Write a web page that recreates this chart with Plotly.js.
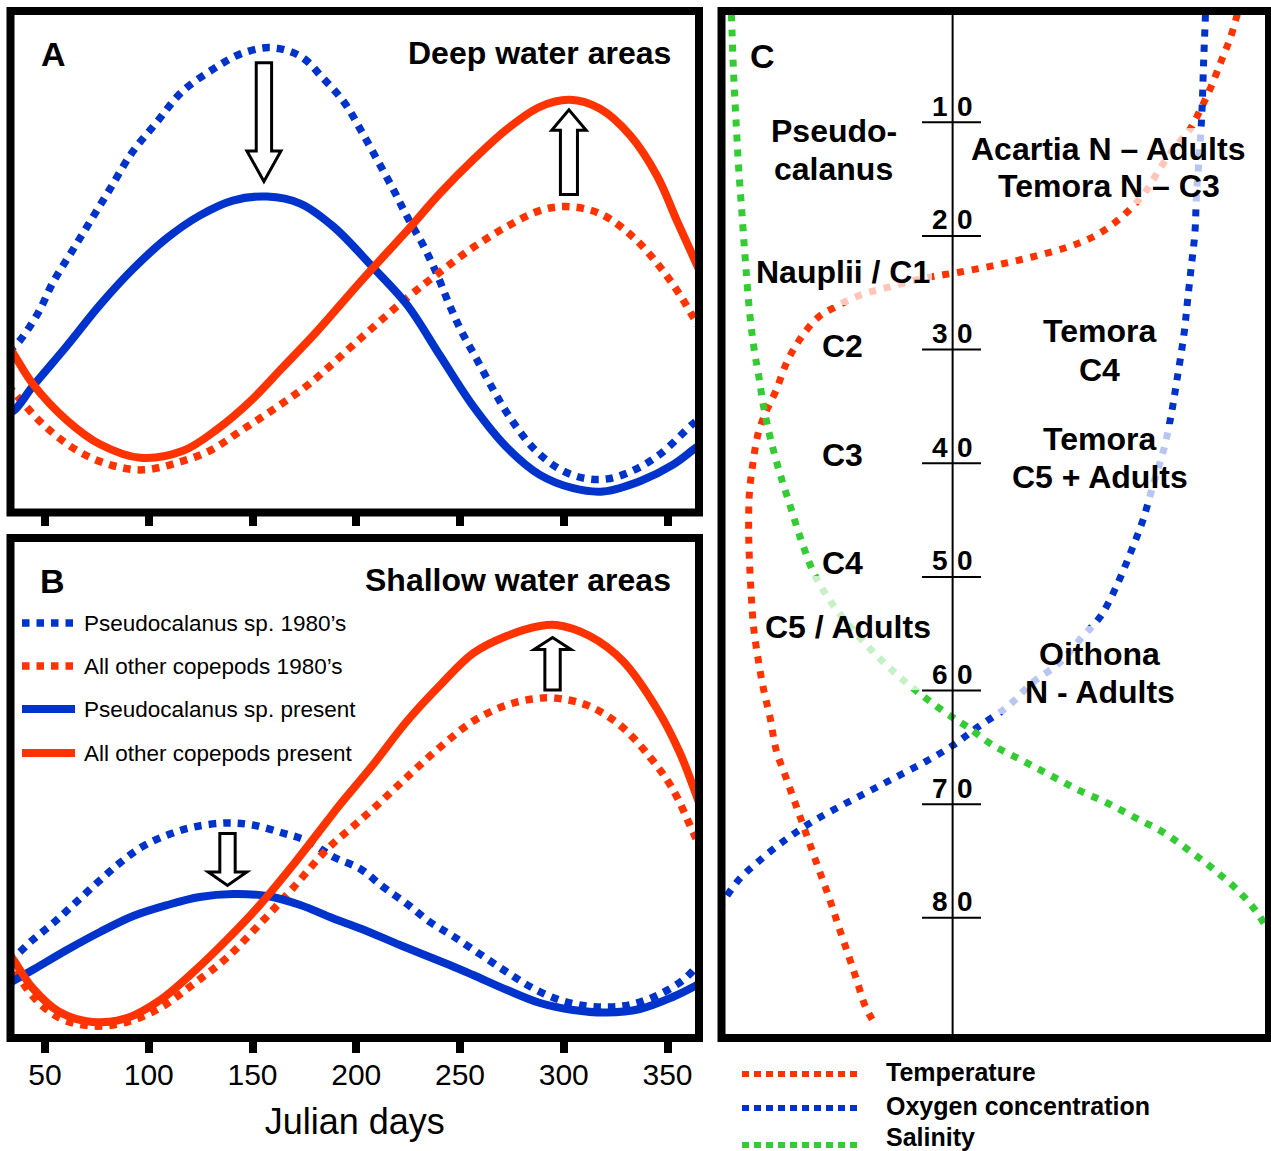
<!DOCTYPE html>
<html><head><meta charset="utf-8">
<script src="https://cdn.plot.ly/plotly-3.0.1.min.js"></script>
<style>html,body{margin:0;padding:0;background:#fff;} #chart{width:1271px;height:1151px;}</style>
</head><body><div id="chart"></div>
<script>
// ---------------- DATA ----------------
// Julian day tick labels
const dayTicks = [50, 100, 150, 200, 250, 300, 350];

// Panel A – Deep water areas (relative abundance, arbitrary units 0-100)
const A_pseudo80_day = [32, 35.5, 46, 54, 63, 72, 81, 92, 104, 116, 131, 144, 158.5, 173, 184, 194, 202, 210, 218, 224.5, 232, 239, 245, 251, 258, 266, 274, 285, 297, 309, 321, 333, 346, 362, 367];
const A_pseudo80_val = [32.4, 33.2, 39.3, 46.0, 52.1, 58.2, 64.3, 71.8, 77.9, 83.9, 88.4, 91.4, 92.7, 91.0, 86.6, 81.9, 76.4, 70.4, 64.3, 59.0, 53.5, 47.4, 41.3, 35.9, 30.6, 24.5, 19.0, 13.0, 8.9, 6.9, 6.7, 8.3, 11.5, 17.6, 19.3];
const A_other80_day = [32, 35.5, 49, 65.5, 81.5, 97, 113.5, 129.5, 145.5, 162, 177.5, 202, 224.5, 240.5, 256.5, 272.5, 288.5, 301.5, 317.5, 333.5, 346.5, 356, 362.5, 367];
const A_other80_val = [25.3, 23.7, 17.6, 12.35, 9.5, 8.5, 9.9, 12.35, 16.6, 21.1, 25.7, 34.7, 42.8, 48.0, 52.9, 57.0, 60.2, 61.0, 59.6, 54.9, 48.9, 43.4, 38.9, 35.8];
const A_pseudoNow_day = [32, 35.5, 44, 60.5, 76.5, 92.5, 109, 124.5, 140.5, 157, 173, 189, 208, 224.5, 240.5, 256.5, 272.5, 288.5, 304.5, 319, 337, 352.5, 362.5, 367];
const A_pseudoNow_val = [19.7, 20.5, 25.1, 33.2, 41.4, 48.6, 54.8, 59.2, 62.2, 63.0, 61.6, 57.0, 48.9, 41.4, 31.2, 21.1, 13.0, 7.5, 4.85, 4.2, 6.3, 9.5, 12.55, 13.9];
const A_otherNow_day = [32, 35.5, 44, 60.5, 76.5, 96, 116.5, 133, 149, 164.5, 181, 202, 224.5, 240.5, 256.5, 272.5, 288.5, 303, 317.5, 332, 345, 354.5, 362.5, 367];
const A_otherNow_val = [33.5, 31.2, 25.7, 18.4, 13.6, 10.9, 12.3, 16.6, 22.2, 28.9, 36.1, 46.0, 56.2, 63.7, 70.4, 76.4, 80.9, 82.3, 80.5, 75.2, 67.1, 58.2, 50.9, 46.8];

// Panel B – Shallow water areas
const B_pseudo80_day = [32, 35.5, 44, 54, 63.5, 75, 86, 97, 109, 121.5, 137.5, 150, 164.5, 176.5, 189, 202, 213, 224.5, 235.5, 246.5, 259.5, 272.5, 285, 298, 311, 322.5, 333.5, 346.5, 357.5, 363.5, 367];
const B_pseudo80_val = [15.7, 16.4, 19.6, 23.0, 26.6, 31.0, 35.0, 38.3, 40.6, 42.2, 43.0, 42.6, 41.0, 39.4, 36.2, 33.8, 30.2, 26.8, 23.2, 20.4, 16.8, 13.2, 10.0, 7.6, 6.4, 6.2, 6.8, 8.8, 11.6, 14.0, 15.5];
const B_other80_day = [32, 35.5, 44, 57, 73, 89.5, 105.5, 121.5, 137.5, 153.5, 169.5, 186, 197, 208, 224.5, 240.5, 256.5, 272.5, 285, 295, 311, 327, 341.5, 352.5, 362.5, 367];
const B_other80_val = [15.8, 13.6, 8.4, 4.0, 2.4, 3.2, 6.0, 10.8, 16.0, 22.8, 30.0, 37.8, 41.8, 45.8, 52.2, 58.2, 63.4, 66.6, 67.8, 68.0, 66.6, 62.6, 56.2, 49.8, 41.0, 37.0];
const B_pseudoNow_day = [32, 35.5, 44, 60.5, 76.5, 92.5, 109, 124.5, 140.5, 157, 173, 189, 202, 221, 245, 256.3, 272.7, 288.6, 304.5, 320.5, 336.7, 352.5, 363.3, 367];
const B_pseudoNow_val = [10.8, 11.6, 13.6, 17.6, 21.2, 24.4, 26.6, 28.2, 28.8, 28.4, 26.6, 23.9, 21.9, 18.6, 14.6, 12.6, 9.6, 7.0, 5.6, 5.1, 5.8, 8.2, 10.4, 11.3];
const B_otherNow_day = [32, 35.5, 44, 57, 73, 89.5, 105.5, 121.5, 137.5, 153.5, 169.5, 186, 192, 208, 224.5, 240.5, 256.5, 272.5, 288.5, 296.5, 312.5, 328.5, 345, 356, 363.5, 367];
const B_otherNow_val = [17.3, 15.2, 10.0, 5.2, 3.2, 4.0, 7.6, 13.2, 19.6, 26.6, 34.6, 43.4, 46.6, 54.6, 63.4, 70.6, 77.0, 80.4, 82.4, 82.6, 80.4, 75.4, 65.8, 57.0, 49.0, 45.0];

// Panel C – depth profiles (relative units across, depth in m down)
const C_depthTicks = [10, 20, 30, 40, 50, 60, 70, 80];
const C_temp_x = [95.15, 94.45, 93.16, 91.51, 89.55, 87.59, 85.62, 83.0, 80.38, 77.77, 75.15, 71.88, 67.94, 63.37, 56.82, 50.26, 43.71, 37.18, 30.63, 25.40, 20.81, 17.53, 14.25, 11.97, 10.01, 8.05, 6.73, 5.75, 5.11, 4.96, 5.11, 5.42, 5.87, 6.73, 7.72, 8.87, 10.01, 11.97, 13.94, 15.90, 17.86, 19.84, 21.46, 23.09, 24.74, 26.37, 27.89];
const C_temp_depth = [-0.77, 0.38, 2.49, 4.51, 6.89, 8.92, 10.67, 12.17, 13.94, 15.96, 17.45, 18.86, 20.09, 20.97, 21.85, 22.56, 23.17, 23.70, 24.49, 25.20, 26.25, 27.22, 29.16, 31.09, 33.56, 35.58, 37.34, 39.98, 42.62, 45.61, 48.52, 51.42, 54.41, 57.32, 59.96, 62.33, 65.24, 67.88, 70.52, 73.16, 75.80, 78.44, 80.81, 83.10, 85.48, 87.86, 89.18];
const C_oxy_x = [88.6, 88.56, 88.23, 87.92, 87.59, 86.93, 86.62, 85.95, 85.29, 84.65, 83.33, 82.34, 81.04, 79.07, 77.11, 74.82, 72.20, 69.26, 65.98, 61.8, 56.82, 52.24, 46.93, 42.42, 37.18, 31.93, 26.70, 21.46, 16.23, 11.64, 7.06, 3.13, -0.15, -2.0];
const C_oxy_depth = [-0.8, 0.38, 4.51, 8.92, 11.82, 16.22, 19.74, 22.73, 25.63, 28.54, 32.68, 35.58, 38.57, 41.74, 45.00, 47.90, 50.89, 53.54, 55.29, 57.58, 59.34, 61.45, 63.21, 64.80, 66.30, 67.62, 68.94, 70.25, 71.66, 73.16, 74.92, 76.68, 78.88, 80.2];
const C_sal_x = [1.7, 1.83, 2.16, 2.62, 3.13, 3.79, 4.45, 5.23, 6.07, 6.73, 7.72, 9.02, 10.67, 12.63, 14.58, 16.89, 20.15, 24.08, 28.67, 33.25, 37.82, 42.42, 45.03, 49.61, 54.86, 60.09, 65.32, 70.56, 75.81, 81.04, 85.95, 90.21, 94.78, 98.06, 101.0];
const C_sal_depth = [-0.8, 0.73, 5.13, 9.53, 13.93, 18.33, 22.73, 27.13, 30.30, 32.06, 35.05, 37.96, 40.86, 43.85, 46.76, 49.66, 52.30, 54.68, 57.05, 59.08, 60.84, 62.42, 63.21, 64.80, 66.12, 67.44, 68.76, 69.90, 71.22, 72.54, 74.22, 75.80, 77.74, 79.59, 82.0];

const legendAB = ['Pseudocalanus sp. 1980\u2019s', 'All other copepods 1980\u2019s', 'Pseudocalanus sp. present', 'All other copepods present'];
const legendC = ['Temperature', 'Oxygen concentration', 'Salinity'];

// ---------------- STYLE / LAYOUT ----------------
const W = 1271, H = 1151;
const PX = x => x / W, PY = y => 1 - y / H;
const BLUE = '#0033cc', RED = '#ff3300', GREEN = '#33cc33';
const FONT = "Arial, 'Liberation Sans', sans-serif";
const DOT_AB = '7.5px,7px';
const DOT_C = '7px,8px';

function ln(x, y, color, dash, xa, ya, w) {
  return {x: x, y: y, xaxis: xa, yaxis: ya, type: 'scatter', mode: 'lines', hoverinfo: 'skip', showlegend: false,
    line: {color: color, width: w, dash: dash, shape: 'spline', smoothing: 1.0}};
}
const traces = [
  ln(A_pseudo80_day, A_pseudo80_val, BLUE, DOT_AB, 'x', 'y', 7.5),
  ln(A_other80_day, A_other80_val, RED, DOT_AB, 'x', 'y', 7.5),
  ln(A_pseudoNow_day, A_pseudoNow_val, BLUE, 'solid', 'x', 'y', 8),
  ln(A_otherNow_day, A_otherNow_val, RED, 'solid', 'x', 'y', 8),
  ln(B_pseudo80_day, B_pseudo80_val, BLUE, DOT_AB, 'x2', 'y2', 7.5),
  ln(B_other80_day, B_other80_val, RED, DOT_AB, 'x2', 'y2', 7.5),
  ln(B_pseudoNow_day, B_pseudoNow_val, BLUE, 'solid', 'x2', 'y2', 8),
  ln(B_otherNow_day, B_otherNow_val, RED, 'solid', 'x2', 'y2', 8),
  ln(C_temp_x, C_temp_depth, RED, DOT_C, 'x3', 'y3', 7),
  ln(C_oxy_x, C_oxy_depth, BLUE, DOT_C, 'x3', 'y3', 7),
  ln(C_sal_x, C_sal_depth, GREEN, DOT_C, 'x3', 'y3', 7)
];

const xRangeAB = [33.37, 365.18];
const hidden = {visible: false, showgrid: false, zeroline: false, fixedrange: true};

const shapes = [];
const annotations = [];

// fading boxes behind text in panel C
[[755, 255, 932, 305], [965, 128, 1250, 204], [1005, 424, 1195, 500], [990, 626, 1182, 714], [770, 576, 936, 690]].forEach(b => {
  shapes.push({type: 'rect', xref: 'paper', yref: 'paper', x0: PX(b[0]), x1: PX(b[2]), y0: PY(b[1]), y1: PY(b[3]),
    fillcolor: 'rgba(255,255,255,0.72)', line: {width: 0}, layer: 'above'});
});

// panel borders
[[10.5, 11, 699, 512.5], [10.5, 538, 699, 1038], [721.5, 11, 1269, 1038]].forEach(b => {
  shapes.push({type: 'rect', xref: 'paper', yref: 'paper', x0: PX(b[0]), x1: PX(b[2]), y0: PY(b[1]), y1: PY(b[3]),
    line: {color: '#000', width: 8}, fillcolor: 'rgba(0,0,0,0)', layer: 'above'});
});

// hollow arrows
function arrowPath(cx, sw, hw, yStart, yHead, yTip) {
  return `M${cx - sw},${yStart} L${cx + sw},${yStart} L${cx + sw},${yHead} L${cx + hw},${yHead} L${cx},${yTip} L${cx - hw},${yHead} L${cx - sw},${yHead} Z`;
}
[['x', 'y', 155.5, 3.7, 8.2, 89.7, 72.1, 66.0], ['x', 'y', 302.5, 4.1, 8.3, 63.4, 76.2, 80.3],
 ['x2', 'y2', 137.95, 3.7, 9.3, 40.9, 33.2, 30.5], ['x2', 'y2', 294.6, 3.7, 8.9, 69.6, 77.7, 80.1]].forEach(a => {
  shapes.push({type: 'path', xref: a[0], yref: a[1], path: arrowPath(a[2], a[3], a[4], a[5], a[6], a[7]),
    fillcolor: '#fff', line: {color: '#000', width: 3}, layer: 'above'});
});

// panel C depth axis
const C_axisX = 42.29;
shapes.push({type: 'line', xref: 'x3', yref: 'paper', x0: C_axisX, x1: C_axisX, y0: PY(1036), y1: PY(14), line: {color: '#000', width: 2}, layer: 'above'});
C_depthTicks.forEach(d => {
  shapes.push({type: 'line', xref: 'x3', yref: 'y3', x0: 36.69, x1: 47.48, y0: d, y1: d, line: {color: '#000', width: 2}, layer: 'above'});
  const s = String(d);
  annotations.push({xref: 'paper', yref: 'y3', x: PX(949), y: d, yshift: 16, xanchor: 'right', yanchor: 'middle', showarrow: false,
    text: s.slice(0, s.length - 1), font: {family: FONT, size: 28, weight: 'bold', color: '#000'}, borderpad: 0});
  annotations.push({xref: 'paper', yref: 'y3', x: PX(956), y: d, yshift: 16, xanchor: 'left', yanchor: 'middle', showarrow: false,
    text: s.slice(-1), font: {family: FONT, size: 28, weight: 'bold', color: '#000'}, borderpad: 0});
});

function txt(t, x, y, size, bold, xanchor) {
  annotations.push({xref: 'paper', yref: 'paper', x: PX(x), y: PY(y), xanchor: xanchor || 'center', yanchor: 'middle',
    showarrow: false, text: t, borderpad: 0, font: {family: FONT, size: size, weight: bold ? 'bold' : 'normal', color: '#000'}});
}
txt('A', 53, 54, 34, true);
txt('Deep water areas', 672, 53, 32, true, 'right');
txt('B', 52, 581, 34, true);
txt('Shallow water areas', 672, 580, 32, true, 'right');
txt('C', 762, 56, 34, true);
txt('Pseudo-', 834, 131, 32, true);
txt('calanus', 833, 169, 32, true);
txt('Acartia N \u2013 Adults', 1108, 149, 32, true);
txt('Temora N \u2013 C3', 1109, 186, 32, true);
txt('Nauplii / C1', 843, 272, 32, true);
txt('C2', 843, 346, 32, true);
txt('C3', 843, 455, 32, true);
txt('C4', 843, 563, 32, true);
txt('C5 / Adults', 848, 627, 32, true);
txt('Temora', 1099, 331, 32, true);
txt('C4', 1099, 370, 32, true);
txt('Temora', 1099, 439, 32, true);
txt('C5 + Adults', 1100, 477, 32, true);
txt('Oithona', 1099, 654, 32, true);
txt('N - Adults', 1100, 692, 32, true);

// legend inside panel B
const legABstyle = [[BLUE, DOT_AB, 7.5], [RED, DOT_AB, 7.5], [BLUE, 'solid', 8], [RED, 'solid', 8]];
const legABy = [623, 666, 709, 753];
legendAB.forEach((t, i) => {
  shapes.push({type: 'line', xref: 'paper', yref: 'paper', x0: PX(22), x1: PX(75), y0: PY(legABy[i]), y1: PY(legABy[i]),
    line: {color: legABstyle[i][0], width: legABstyle[i][2], dash: legABstyle[i][1]}});
  txt(t, 83, legABy[i], 22.5, false, 'left');
});

// legend below panel C
const legCcol = [RED, BLUE, GREEN];
const legCy = [1074, 1108, 1145];
const legCty = [1072, 1106, 1137];
legendC.forEach((t, i) => {
  shapes.push({type: 'line', xref: 'paper', yref: 'paper', x0: PX(742), x1: PX(857), y0: PY(legCy[i]), y1: PY(legCy[i]),
    line: {color: legCcol[i], width: 6, dash: '7px,5px'}});
  txt(t, 885, legCty[i], 25, true, 'left');
});

const layout = {
  width: W, height: H, margin: {l: 0, r: 0, t: 0, b: 0}, paper_bgcolor: '#fff', plot_bgcolor: 'rgba(0,0,0,0)',
  showlegend: false, font: {family: FONT, color: '#000'},
  xaxis: {domain: [PX(10.5), PX(699)], range: xRangeAB, anchor: 'y', tickmode: 'array', tickvals: dayTicks,
    ticks: 'outside', ticklen: 12.5, tickwidth: 8, tickcolor: '#000', showticklabels: false,
    showgrid: false, zeroline: false, showline: false, fixedrange: true},
  yaxis: Object.assign({domain: [PY(512.5), PY(11)], range: [0, 100], anchor: 'x'}, hidden),
  xaxis2: {domain: [PX(10.5), PX(699)], range: xRangeAB, anchor: 'y2', tickmode: 'array', tickvals: dayTicks,
    ticktext: dayTicks.map(String), ticks: 'outside', ticklen: 14, tickwidth: 8, tickcolor: '#000', ticklabelstandoff: -4,
    tickfont: {family: FONT, size: 30, color: '#000'}, showgrid: false, zeroline: false, showline: false, fixedrange: true,
    title: {text: 'Julian days', font: {family: FONT, size: 36, color: '#000'}, standoff: 18}},
  yaxis2: Object.assign({domain: [PY(1038), PY(538)], range: [0, 100], anchor: 'x2'}, hidden),
  xaxis3: Object.assign({domain: [PX(721.5), PX(1269)], range: [0, 100.18], anchor: 'y3'}, hidden),
  yaxis3: Object.assign({domain: [PY(1038), PY(11)], range: [90.58, 0.2], anchor: 'x3', autorange: false}, hidden),
  shapes: shapes,
  annotations: annotations
};

Plotly.newPlot('chart', traces, layout, {staticPlot: true, displayModeBar: false});
</script>
</body></html>
